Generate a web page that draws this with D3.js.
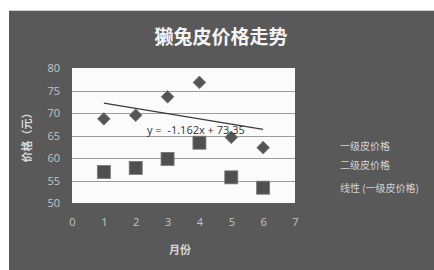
<!DOCTYPE html>
<html>
<head>
<meta charset="utf-8">
<script src="https://cdn.jsdelivr.net/npm/d3@7"></script>
<style>
  body { margin: 0; background: #fff; }
  svg { display: block; font-family: "Noto Sans", "Noto Sans CJK SC", sans-serif; }
</style>
</head>
<body>
<div id="container"></div>
<script>
const months = [1, 2, 3, 4, 5, 6]
const gradeOne = [68.7, 69.5, 73.6, 76.8, 64.6, 62.3]
const gradeTwo = [56.9, 57.8, 59.8, 63.4, 55.7, 53.4]
const xTicks = [0, 1, 2, 3, 4, 5, 6, 7]
const yTicks = [50, 55, 60, 65, 70, 75, 80]
const trendSlope = -1.162
const trendIntercept = 73.35
const legendLabels = ["一级皮价格", "二级皮价格", "线性 (一级皮价格)"]

const width = 434, height = 270
const plot = { left: 72, top: 68, right: 295, bottom: 203 }

const svg = d3.select('#container').append('svg')
    .attr('width', width).attr('height', height)

// dark chart frame
svg.append('rect').attr('x', 9).attr('y', 10).attr('width', width - 9).attr('height', height - 10)
    .attr('fill', '#595959')
svg.append('line').attr('x1', 9).attr('x2', width).attr('y1', 10.5).attr('y2', 10.5)
    .attr('stroke', '#cfcfcf').attr('stroke-width', 1)

const x = d3.scaleLinear().domain([0, 7]).range([plot.left, plot.right])
const y = d3.scaleLinear().domain([50, 80]).range([plot.bottom, plot.top])

svg.append('rect')
    .attr('x', plot.left).attr('y', plot.top)
    .attr('width', plot.right - plot.left).attr('height', plot.bottom - plot.top)
    .attr('fill', '#fbfbfb')

// gridlines
svg.append('g').selectAll('line').data(yTicks.slice(1, -1)).join('line')
    .attr('x1', plot.left).attr('x2', plot.right)
    .attr('y1', d => Math.round(y(d)) + 0.5).attr('y2', d => Math.round(y(d)) + 0.5)
    .attr('stroke', '#9c9c9c')

// axes
const yAxis = svg.append('g').attr('transform', `translate(${plot.left},0)`)
    .call(d3.axisLeft(y).tickValues(yTicks).tickFormat(d3.format('d')).tickSize(0).tickPadding(12))
const xAxis = svg.append('g').attr('transform', `translate(0,${plot.bottom})`)
    .call(d3.axisBottom(x).tickValues(xTicks).tickFormat(d3.format('d')).tickSize(0).tickPadding(15))
for (const ax of [xAxis, yAxis]) {
    ax.select('.domain').remove()
    ax.selectAll('text').attr('fill', '#c4c4c4').attr('font-size', 11)
        .attr('font-family', '"Open Sans", sans-serif')
}

// trendline
const tx = [months[0], months[months.length - 1]]
svg.append('line')
    .attr('x1', x(tx[0])).attr('y1', y(trendSlope * tx[0] + trendIntercept))
    .attr('x2', x(tx[1])).attr('y2', y(trendSlope * tx[1] + trendIntercept))
    .attr('stroke', '#3a3a3a').attr('stroke-width', 1.3)

// markers
svg.append('g').selectAll('path').data(months).join('path')
    .attr('transform', (d, i) => `translate(${x(d)},${y(gradeOne[i])}) rotate(45)`)
    .attr('d', 'M-4.5,-4.5H4.5V4.5H-4.5Z')
    .attr('fill', '#555').attr('stroke', '#7a7a7a').attr('stroke-width', 0.8)

svg.append('g').selectAll('rect').data(months).join('rect')
    .attr('x', d => x(d) - 6.5).attr('y', (d, i) => y(gradeTwo[i]) - 6.5)
    .attr('width', 13).attr('height', 13)
    .attr('fill', '#4f4f4f').attr('stroke', '#777').attr('stroke-width', 0.8)

// trend equation
svg.append('text').attr('x', 147).attr('y', 134)
    .attr('font-size', 11).attr('fill', '#333')
    .attr('font-family', '"Open Sans", sans-serif')
    .attr('xml:space', 'preserve')
    .text(`y =  ${trendSlope}x + ${trendIntercept}`)

// titles
svg.append('text').attr('x', 221).attr('y', 44).attr('text-anchor', 'middle')
    .attr('font-size', 19).attr('font-weight', 'bold').attr('fill', '#f4f4f4')
    .attr('font-family', '"Noto Sans CJK SC", sans-serif')
    .text('獭兔皮价格走势')

svg.append('text').attr('transform', 'translate(31,135) rotate(-90)')
    .attr('text-anchor', 'middle').attr('font-size', 11).attr('font-weight', 'bold')
    .attr('fill', '#d8d8d8').attr('font-family', '"Noto Sans CJK SC", sans-serif')
    .text('价格（元）')

svg.append('text').attr('x', 180).attr('y', 254).attr('text-anchor', 'middle')
    .attr('font-size', 11).attr('font-weight', 'bold').attr('fill', '#d8d8d8')
    .attr('font-family', '"Noto Sans CJK SC", sans-serif')
    .text('月份')

// legend
svg.append('g').selectAll('text').data(legendLabels).join('text')
    .attr('x', 340).attr('y', (d, i) => [150, 169, 192][i])
    .attr('font-size', 10).attr('fill', '#d4d4d4')
    .attr('font-family', '"Noto Sans CJK SC", sans-serif')
    .text(d => d)
</script>
</body>
</html>
